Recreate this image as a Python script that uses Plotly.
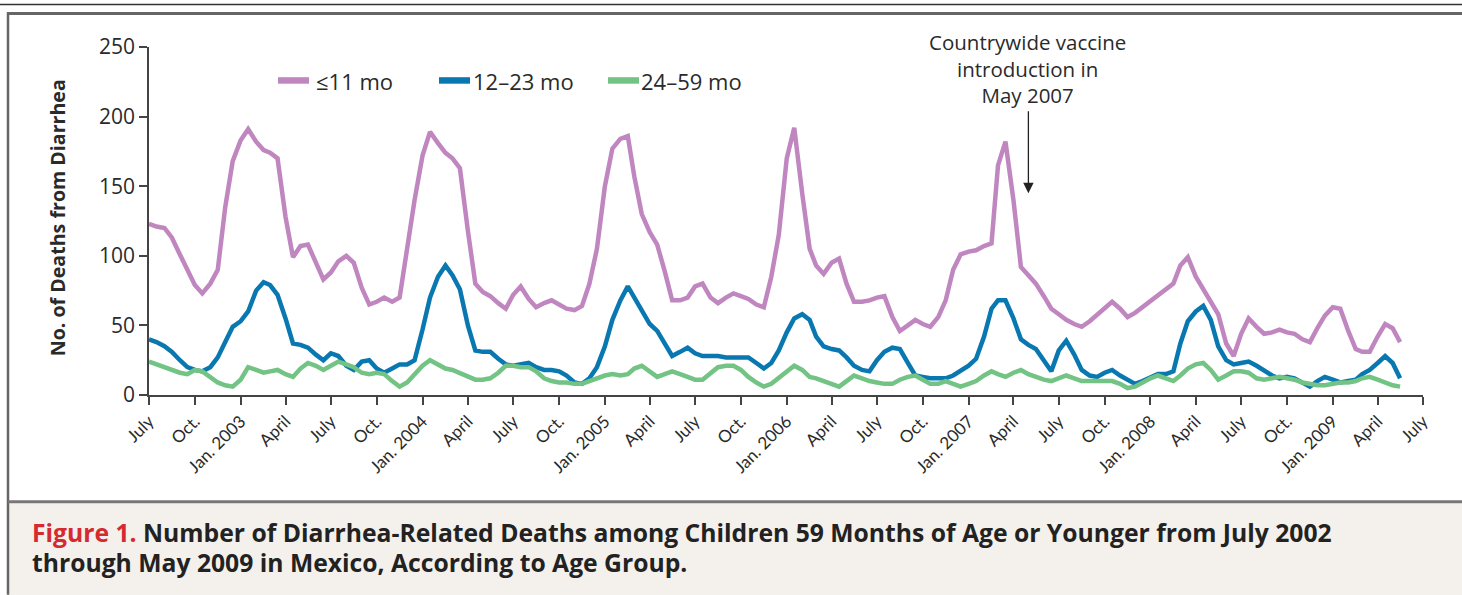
import plotly.graph_objects as go

# ---------------- data (semi-monthly, from July 2002 through mid-May 2009) ----------------
start_year, start_month = 2002, 7
n_points = 166  # two readings per month

le11_mo = [123, 121, 120, 113, 101, 90, 79, 73, 80, 90,
           135, 168, 183, 191, 182, 176, 174, 170, 128, 99,
           107, 108, 95, 83, 88, 96, 100, 95, 77, 65,
           67, 70, 67, 70, 105, 140, 172, 189, 181, 174,
           170, 163, 118, 80, 74, 71, 66, 62, 72, 78,
           69, 63, 66, 68, 65, 62, 61, 64, 80, 105,
           150, 177, 184, 186, 157, 130, 117, 108, 89, 68,
           68, 70, 78, 80, 70, 66, 70, 73, 71, 69,
           65, 63, 85, 115, 170, 192, 145, 105, 93, 87,
           95, 98, 80, 67, 67, 68, 70, 71, 56, 46,
           50, 54, 51, 49, 56, 68, 90, 101, 103, 104,
           107, 109, 165, 182, 140, 92, 86, 80, 71, 62,
           58, 54, 51, 49, 53, 58, 63, 67, 62, 56,
           59, 63, 67, 71, 75, 80, 93, 99, 85, 76,
           67, 58, 37, 28, 44, 55, 49, 44, 45, 47,
           45, 44, 40, 38, 48, 57, 63, 62, 46, 33,
           31, 31, 42, 51, 48, 38]

m12_23 = [40, 38, 35, 31, 25, 20, 18, 17, 20, 27,
          38, 49, 53, 60, 75, 81, 79, 72, 55, 37,
          36, 34, 29, 25, 30, 28, 21, 18, 24, 25,
          19, 16, 19, 22, 22, 25, 47, 70, 85, 93,
          86, 76, 50, 32, 31, 31, 26, 22, 21, 22,
          23, 20, 18, 18, 17, 14, 9, 8, 12, 20,
          35, 54, 68, 78, 70, 60, 51, 46, 37, 28,
          31, 34, 30, 28, 28, 28, 27, 27, 27, 27,
          23, 19, 23, 32, 45, 55, 58, 54, 42, 35,
          33, 32, 27, 21, 18, 17, 25, 31, 34, 33,
          23, 14, 13, 12, 12, 12, 14, 17, 21, 26,
          42, 62, 68, 68, 55, 40, 36, 33, 25, 17,
          32, 39, 29, 18, 14, 13, 16, 18, 14, 11,
          8, 10, 13, 15, 15, 17, 37, 53, 60, 64,
          54, 35, 25, 22, 23, 24, 21, 18, 14, 12,
          13, 12, 9, 6, 10, 13, 11, 9, 10, 11,
          15, 18, 23, 28, 23, 12]

m24_59 = [24, 22, 20, 18, 16, 15, 18, 17, 13, 9,
          7, 6, 11, 20, 18, 16, 17, 18, 15, 13,
          19, 23, 21, 18, 21, 24, 22, 20, 16, 15,
          16, 15, 10, 6, 9, 15, 21, 25, 22, 19,
          18, 16, 13, 11, 11, 12, 16, 21, 21, 20,
          20, 17, 12, 10, 9, 9, 8, 8, 10, 12,
          14, 15, 14, 15, 19, 21, 17, 13, 15, 17,
          15, 13, 11, 11, 16, 20, 21, 21, 18, 13,
          9, 6, 8, 12, 17, 21, 18, 13, 12, 10,
          8, 6, 10, 14, 12, 10, 9, 8, 8, 11,
          13, 14, 11, 8, 8, 10, 8, 6, 8, 10,
          14, 17, 15, 13, 16, 18, 15, 13, 11, 10,
          12, 14, 12, 10, 10, 10, 10, 10, 8, 5,
          6, 9, 12, 14, 12, 10, 14, 19, 22, 23,
          18, 11, 14, 17, 17, 16, 12, 11, 12, 13,
          12, 11, 9, 8, 7, 7, 8, 9, 9, 10,
          12, 13, 11, 9, 7, 6]

series_names = ["≤11 mo", "12–23 mo", "24–59 mo"]
series_colors = ["#c086c0", "#0a78b0", "#72c384"]

tick_dates = ["2002-07-01", "2002-10-01", "2003-01-01", "2003-04-01", "2003-07-01", "2003-10-01",
              "2004-01-01", "2004-04-01", "2004-07-01", "2004-10-01", "2005-01-01", "2005-04-01",
              "2005-07-01", "2005-10-01", "2006-01-01", "2006-04-01", "2006-07-01", "2006-10-01",
              "2007-01-01", "2007-04-01", "2007-07-01", "2007-10-01", "2008-01-01", "2008-04-01",
              "2008-07-01", "2008-10-01", "2009-01-01", "2009-04-01", "2009-07-01"]
tick_labels = ["July", "Oct.", "Jan. 2003", "April", "July", "Oct.",
               "Jan. 2004", "April", "July", "Oct.", "Jan. 2005", "April",
               "July", "Oct.", "Jan. 2006", "April", "July", "Oct.",
               "Jan. 2007", "April", "July", "Oct.", "Jan. 2008", "April",
               "July", "Oct.", "Jan. 2009", "April", "July"]
y_ticks = [0, 50, 100, 150, 200, 250]

note_text = "Countrywide vaccine<br>introduction in<br>May 2007"

# semi-monthly dates (1st and 16th of each month)
dates = []
for i in range(n_points):
    mi = i // 2
    y = start_year + (start_month - 1 + mi) // 12
    mo = (start_month - 1 + mi) % 12 + 1
    day = 1 if i % 2 == 0 else 16
    dates.append(f"{y:04d}-{mo:02d}-{day:02d}")

# ---------------- layout geometry (pixels) ----------------
W, H = 1462, 595
PL, PR, PT, PB = 149, 1423, 46.5, 395

def px(x):
    return (x - PL) / (PR - PL)

def py(y):
    return (PB - y) / (PB - PT)

FONT = "Open Sans"
TXT = "#2a2a2a"

fig = go.Figure()
for name, vals, col in zip(series_names, [le11_mo, m12_23, m24_59], series_colors):
    fig.add_trace(go.Scatter(x=dates, y=vals, mode="lines", name=name,
                             line=dict(color=col, width=4.5), showlegend=False))

shapes = []
annotations = []

# frame lines
shapes.append(dict(type="rect", xref="paper", yref="paper", x0=px(8), x1=px(W + 5), y0=py(502), y1=py(H + 5),
                   fillcolor="#f4f1ec", line=dict(width=0), layer="below"))
shapes.append(dict(type="line", xref="paper", yref="paper", x0=px(0), x1=px(W), y0=py(4), y1=py(4),
                   line=dict(color="#333333", width=1.5)))
shapes.append(dict(type="line", xref="paper", yref="paper", x0=px(7), x1=px(W), y0=py(13), y1=py(13),
                   line=dict(color="#666666", width=3)))
shapes.append(dict(type="line", xref="paper", yref="paper", x0=px(8), x1=px(8), y0=py(12), y1=py(H),
                   line=dict(color="#666666", width=2.5)))
shapes.append(dict(type="line", xref="paper", yref="paper", x0=px(8), x1=px(W), y0=py(502), y1=py(502),
                   line=dict(color="#777777", width=3)))

# legend (manual)
leg = [(278, 309, 314), (439, 470, 471), (608, 639, 639)]
for (x0, x1, tx), name, col in zip(leg, series_names, series_colors):
    shapes.append(dict(type="line", xref="paper", yref="paper", x0=px(x0), x1=px(x1), y0=py(80), y1=py(80),
                       line=dict(color=col, width=6.5)))
    annotations.append(dict(xref="paper", yref="paper", x=px(tx), y=py(81), text=name, showarrow=False,
                            xanchor="left", yanchor="middle", font=dict(family=FONT, size=22, color=TXT)))

# y-axis title
annotations.append(dict(xref="paper", yref="paper", x=px(57), y=py(218), text="<b>No. of Deaths from Diarrhea</b>",
                        textangle=-90, showarrow=False, xanchor="center", yanchor="middle",
                        font=dict(family=FONT, size=19.6, color=TXT)))

# vaccine annotation
annotations.append(dict(xref="paper", yref="paper", x=px(1027), y=py(68), text=note_text, showarrow=False,
                        xanchor="center", yanchor="middle", font=dict(family=FONT, size=20.5, color=TXT)))
annotations.append(dict(x="2007-05-01", y=145, ax="2007-05-01", ay=205, xref="x", yref="y", axref="x", ayref="y",
                        text="", showarrow=True, arrowhead=2, arrowsize=1.6, arrowwidth=1.3, arrowcolor="#222222"))

# caption
annotations.append(dict(xref="paper", yref="paper", x=px(30), y=py(533),
                        text="<b><span style='color:#d42a30'>Figure 1.</span> Number of Diarrhea-Related Deaths among Children 59 Months of Age or Younger from July 2002</b>",
                        showarrow=False, xanchor="left", yanchor="middle", font=dict(family=FONT, size=24.7, color="#222222")))
annotations.append(dict(xref="paper", yref="paper", x=px(30), y=py(563),
                        text="<b>through May 2009 in Mexico, According to Age Group.</b>",
                        showarrow=False, xanchor="left", yanchor="middle", font=dict(family=FONT, size=24.7, color="#222222")))

fig.update_layout(
    width=W, height=H,
    margin=dict(l=PL, r=W - PR, t=PT, b=H - PB, pad=0),
    paper_bgcolor="white", plot_bgcolor="white",
    font=dict(family=FONT, size=17, color=TXT),
    shapes=shapes, annotations=annotations,
    xaxis=dict(type="date", range=["2002-07-01", "2009-07-01"], tickmode="array",
               tickvals=tick_dates, ticktext=tick_labels, tickangle=-45,
               showline=True, linecolor="#444444", linewidth=1.5, ticks="outside", ticklen=8,
               tickcolor="#444444", tickwidth=1.5, showgrid=False, zeroline=False,
               tickfont=dict(family="Lato", size=17, color=TXT)),
    yaxis=dict(range=[0, 250], tickmode="array", tickvals=y_ticks,
               showline=True, linecolor="#444444", linewidth=1.5, ticks="outside", ticklen=8,
               tickcolor="#444444", tickwidth=1.5, showgrid=False, zeroline=False,
               tickfont=dict(family=FONT, size=21, color=TXT)),
)

fig.write_html("out.html", config={"displayModeBar": False},
               post_script="document.body.style.margin='0';document.body.style.padding='0';document.body.style.overflow='hidden';")
